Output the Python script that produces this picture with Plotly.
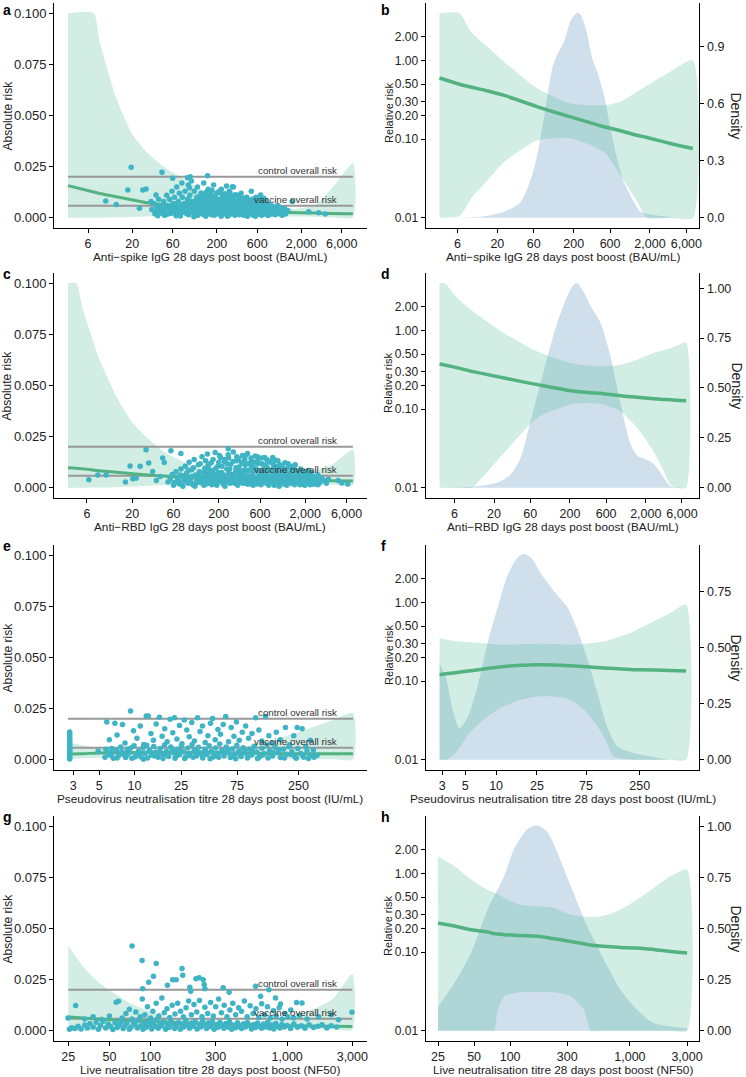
import math
import plotly.graph_objects as go

W, H = 746, 1077
FONT = "Liberation Sans, Arial, Helvetica, sans-serif"

# ---------------- shared values ----------------
ctrl_risk = 0.0201
vacc_risk = 0.0059

spike_ticks = [6, 20, 60, 200, 600, 2000, 6000]
spike_text = ["6", "20", "60", "200", "600", "2,000", "6,000"]
pseudo_ticks = [3, 5, 10, 25, 75, 250]
pseudo_text = ["3", "5", "10", "25", "75", "250"]
live_ticks = [25, 50, 100, 300, 1000, 3000]
live_text = ["25", "50", "100", "300", "1,000", "3,000"]
ar_ticks = [0, 0.025, 0.05, 0.075, 0.1]
ar_text = ["0.000", "0.025", "0.050", "0.075", "0.100"]
rr_ticks = [0.01, 0.1, 0.2, 0.3, 0.5, 1, 2]
rr_text = ["0.01", "0.10", "0.20", "0.30", "0.50", "1.00", "2.00"]

# ---------------- panel a (absolute risk, anti-spike) ----------------
a_x = [3.47, 6.97, 8.2, 12.9, 20.2, 31.8, 50, 78.6, 124, 194, 305, 753, 1183, 1862, 2924, 4592, 8128]
a_up = [0.1, 0.1, 0.0864, 0.0586, 0.0406, 0.0308, 0.0242, 0.0193, 0.0144, 0.0103, 0.0079, 0.0046, 0.0040, 0.0045, 0.0062, 0.0144, 0.0267]
a_lo = [0, 0, 0, 0.0002, 0.0004, 0.0007, 0.001, 0.0012, 0.0014, 0.0014, 0.0013, 0.001, 0.0008, 0.0006, 0.0004, 0.0003, 0.0002]
a_fit = [0.0157, 0.0126, 0.0119, 0.0103, 0.0087, 0.0072, 0.0062, 0.0054, 0.0046, 0.0039, 0.0034, 0.0029, 0.0027, 0.0025, 0.0023, 0.0021, 0.002]
a_pts = [
    (9.7, 0.0082), (12.9, 0.0065), (17.7, 0.0136), (19.4, 0.0247), (26.6, 0.0136), (29.1, 0.0141), (44.9, 0.0223),
    (33.3, 0.0079), (24.3, 0.0046), (38.1, 0.0111), (60, 0.0193), (90, 0.0196), (96.8, 0.0201), (155, 0.0206),
    (305, 0.0152), (658, 0.0111), (1553, 0.0079), (2440, 0.0029), (3200, 0.0025), (3834, 0.0018),
    (34, 0.004), (36, 0.007), (37, 0.002), (39, 0.005), (41, 0.009), (42, 0.003), (44, 0.006), (46, 0.002), (47, 0.008), (49, 0.004),
    (51, 0.011), (52, 0.006), (54, 0.002), (55, 0.009), (57, 0.004), (59, 0.013), (60, 0.007), (62, 0.003), (63, 0.010), (65, 0.005),
    (67, 0.015), (68, 0.002), (70, 0.008), (72, 0.012), (73, 0.004), (75, 0.006), (77, 0.017), (78, 0.010), (80, 0.003), (82, 0.007),
    (84, 0.013), (86, 0.005), (88, 0.002), (90, 0.009), (92, 0.016), (94, 0.004), (96, 0.011), (98, 0.006), (100, 0.018), (102, 0.003),
    (105, 0.008), (108, 0.013), (110, 0.005), (113, 0.002), (116, 0.010), (118, 0.015), (121, 0.006), (124, 0.004), (127, 0.009), (130, 0.012),
    (133, 0.002), (136, 0.007), (140, 0.017), (143, 0.005), (146, 0.010), (150, 0.003), (154, 0.008), (158, 0.014), (162, 0.006), (166, 0.002),
    (170, 0.011), (174, 0.004), (178, 0.008), (183, 0.016), (188, 0.005), (193, 0.003), (198, 0.012), (203, 0.007), (208, 0.002), (214, 0.009),
    (220, 0.005), (226, 0.014), (232, 0.003), (238, 0.008), (245, 0.006), (252, 0.011), (258, 0.002), (265, 0.007), (272, 0.004), (280, 0.013),
    (288, 0.009), (296, 0.003), (305, 0.006), (314, 0.015), (323, 0.005), (333, 0.008), (343, 0.002), (353, 0.011), (364, 0.004), (375, 0.007),
    (387, 0.012), (399, 0.003), (411, 0.009), (424, 0.005), (437, 0.002), (451, 0.010), (465, 0.006), (480, 0.004), (495, 0.008), (511, 0.013),
    (527, 0.003), (544, 0.007), (561, 0.005), (579, 0.010), (598, 0.002), (617, 0.006), (637, 0.004), (658, 0.009), (680, 0.003), (703, 0.007),
    (727, 0.005), (752, 0.002), (778, 0.008), (805, 0.004), (833, 0.006), (862, 0.003), (893, 0.005), (925, 0.002), (960, 0.004), (1000, 0.003),
    (1050, 0.006), (1100, 0.002), (1160, 0.004), (1230, 0.003), (1300, 0.002),
    (40, 0.001), (45, 0.0045), (50, 0.0015), (56, 0.0035), (61, 0.0055), (66, 0.001), (71, 0.0045), (76, 0.0025), (81, 0.0055), (87, 0.0035),
    (93, 0.0015), (99, 0.0045), (106, 0.0025), (112, 0.0065), (119, 0.0012), (126, 0.0035), (134, 0.0055), (142, 0.0015), (151, 0.0045), (160, 0.0065),
    (168, 0.0025), (177, 0.0048), (187, 0.0012), (196, 0.0058), (206, 0.0035), (217, 0.0075), (228, 0.0015), (240, 0.0045), (250, 0.0032), (262, 0.0055),
    (275, 0.0012), (290, 0.0048), (302, 0.0085), (318, 0.0022), (335, 0.0045), (350, 0.0065), (368, 0.0015), (385, 0.0052), (405, 0.0028), (428, 0.0072),
    (448, 0.0015), (470, 0.0042), (492, 0.0025), (515, 0.0058), (540, 0.0012), (567, 0.0038), (592, 0.0078), (622, 0.0022), (650, 0.0048), (685, 0.0015),
    (715, 0.0038), (745, 0.0062), (790, 0.0025), (820, 0.0013), (870, 0.0045), (910, 0.0032), (980, 0.0015), (1070, 0.0035), (1180, 0.0012), (1260, 0.0045),
    (130, 0.0095), (175, 0.0135), (230, 0.0115), (310, 0.0105), (420, 0.0095), (560, 0.0085), (720, 0.0095), (95, 0.0145), (150, 0.0125), (260, 0.0155),
    (38, 0.0028), (43, 0.0052), (48, 0.0012), (53, 0.0048), (58, 0.0022), (64, 0.0068), (69, 0.0032), (74, 0.0009), (79, 0.0062), (83, 0.0042),
    (89, 0.0072), (91, 0.0022), (97, 0.0082), (101, 0.0058), (104, 0.0035), (107, 0.0005), (111, 0.0078), (115, 0.0042), (117, 0.0092), (120, 0.0028),
    (123, 0.0068), (125, 0.0105), (129, 0.0052), (132, 0.0082), (135, 0.0022), (138, 0.0112), (141, 0.0038), (145, 0.0072), (148, 0.0008), (152, 0.0102),
    (155, 0.0058), (157, 0.0028), (161, 0.0088), (164, 0.0042), (167, 0.0118), (171, 0.0068), (173, 0.0015), (176, 0.0098), (180, 0.0055), (182, 0.0032),
    (185, 0.0078), (190, 0.0108), (192, 0.0018), (195, 0.0045), (200, 0.0092), (204, 0.0025), (210, 0.0062), (212, 0.0128), (216, 0.0038), (222, 0.0085),
    (225, 0.0008), (229, 0.0055), (234, 0.0102), (236, 0.0028), (242, 0.0072), (247, 0.0042), (249, 0.0118), (255, 0.0018), (260, 0.0088), (264, 0.0052),
    (268, 0.0008), (274, 0.0098), (278, 0.0035), (283, 0.0062), (286, 0.0122), (292, 0.0018), (298, 0.0078), (300, 0.0045), (308, 0.0102), (312, 0.0028),
    (320, 0.0068), (326, 0.0012), (330, 0.0112), (338, 0.0038), (346, 0.0082), (348, 0.0055), (357, 0.0022), (360, 0.0095), (370, 0.0048), (378, 0.0105),
    (382, 0.0018), (392, 0.0062), (396, 0.0038), (403, 0.0085), (416, 0.0012), (420, 0.0055), (433, 0.0078), (440, 0.0032), (455, 0.0062), (460, 0.0008),
    (475, 0.0088), (485, 0.0048), (500, 0.0018), (505, 0.0068), (520, 0.0035), (533, 0.0092), (550, 0.0022), (555, 0.0055), (572, 0.0008), (585, 0.0045),
    (605, 0.0068), (610, 0.0018), (630, 0.0082), (642, 0.0032), (665, 0.0058), (672, 0.0012), (695, 0.0048), (710, 0.0022), (735, 0.0075), (760, 0.0035),
    (770, 0.0055), (795, 0.0012), (815, 0.0065), (845, 0.0028), (880, 0.0018), (900, 0.0058), (940, 0.0042), (990, 0.0052), (1030, 0.0022), (1120, 0.0048),
    (1200, 0.0028), (1270, 0.0018), (1380, 0.0035),
]

# ---------------- panel b (relative risk, anti-spike) ----------------
b_x = [3.49, 6.37, 9.03, 14.9, 24.7, 67.2, 183, 498, 822, 1356, 1830, 3690, 7300]
b_up = [4, 4, 2.31, 1.49, 0.96, 0.44, 0.284, 0.27, 0.30, 0.40, 0.48, 0.72, 1.01]
b_lo = [0.01, 0.0105, 0.0176, 0.030, 0.0515, 0.097, 0.102, 0.069, 0.0349, 0.016, 0.01, 0.01, 0.01]
b_fit = [0.60, 0.50, 0.46, 0.41, 0.36, 0.258, 0.192, 0.144, 0.128, 0.112, 0.105, 0.088, 0.076]
b_dens_x = [6.06, 12.2, 24.7, 40.6, 60.7, 82, 105, 122, 150, 183, 223, 247, 287, 351, 407, 498, 608, 743, 908, 1225, 1500, 2235, 4500]
b_dens_y = [0, 0.005, 0.032, 0.085, 0.26, 0.53, 0.79, 0.86, 0.93, 1.04, 1.08, 1.07, 1.0, 0.84, 0.77, 0.65, 0.47, 0.31, 0.19, 0.085, 0.032, 0.014, 0.0]
b_dens_ticks = [0, 0.3, 0.6, 0.9]
b_dens_text = ["0.0", "0.3", "0.6", "0.9"]
b_dens_top = 1.078

# ---------------- panel c (absolute risk, anti-RBD) ----------------
c_x = [3.62, 4.52, 5.39, 8.39, 13.1, 20.3, 31.6, 49.1, 76.4, 119, 288, 695, 1683, 2620, 4074, 7110]
c_up = [0.1, 0.1, 0.087, 0.0627, 0.0448, 0.0317, 0.0235, 0.017, 0.0129, 0.0096, 0.0072, 0.0064, 0.0072, 0.0088, 0.0113, 0.0186]
c_lo = [0, 0, 0, 0.0001, 0.0003, 0.0006, 0.001, 0.0013, 0.0016, 0.0019, 0.0022, 0.0023, 0.0022, 0.0019, 0.0016, 0.0012]
c_fit = [0.0098, 0.0095, 0.0093, 0.0083, 0.0076, 0.0069, 0.0062, 0.0056, 0.0051, 0.0047, 0.0042, 0.0039, 0.0036, 0.0035, 0.0034, 0.0033]
c_pts = [
    (6.3, 0.0039), (8.0, 0.0062), (10, 0.0062), (16.7, 0.0028), (18.9, 0.0106), (20.3, 0.0044), (22.2, 0.0047), (24.7, 0.0105),
    (28.9, 0.0186), (31, 0.0121), (34.5, 0.008), (45, 0.0145), (47, 0.0124), (56, 0.0181), (73, 0.0167), (258, 0.0191),
    (38, 0.0035), (42, 0.0055), (52, 0.0028), (5300, 0.0023), (4800, 0.0035), (6200, 0.0018),
    (55, 0.0042), (58, 0.0065), (61, 0.0025), (64, 0.0078), (67, 0.0048), (70, 0.0018), (73, 0.0092), (76, 0.0058), (79, 0.0032), (82, 0.0105),
    (85, 0.0071), (88, 0.0022), (91, 0.0125), (94, 0.0045), (97, 0.0088), (100, 0.0015), (104, 0.0138), (108, 0.0062), (112, 0.0035), (116, 0.0112),
    (120, 0.0078), (124, 0.0025), (128, 0.0152), (133, 0.0052), (138, 0.0095), (143, 0.0018), (148, 0.0165), (153, 0.0068), (158, 0.0042), (164, 0.0122),
    (170, 0.0085), (176, 0.0028), (182, 0.0172), (188, 0.0058), (195, 0.0105), (202, 0.0035), (209, 0.0148), (216, 0.0075), (224, 0.0018), (232, 0.0128),
    (240, 0.0048), (248, 0.0092), (257, 0.0162), (266, 0.0032), (275, 0.0115), (285, 0.0065), (295, 0.0175), (305, 0.0022), (316, 0.0098), (327, 0.0052),
    (338, 0.0142), (350, 0.0078), (362, 0.0028), (375, 0.0158), (388, 0.0062), (401, 0.0112), (415, 0.0038), (430, 0.0168), (445, 0.0085), (460, 0.0018),
    (476, 0.0132), (493, 0.0055), (510, 0.0098), (528, 0.0155), (546, 0.0042), (565, 0.0118), (585, 0.0072), (605, 0.0025), (626, 0.0145), (648, 0.0062),
    (671, 0.0102), (694, 0.0035), (718, 0.0138), (743, 0.0082), (769, 0.0022), (796, 0.0125), (824, 0.0055), (853, 0.0095), (883, 0.0032), (914, 0.0135),
    (946, 0.0068), (979, 0.0018), (1013, 0.0112), (1048, 0.0048), (1085, 0.0088), (1123, 0.0028), (1162, 0.0122), (1203, 0.0062), (1245, 0.0038), (1289, 0.0098),
    (1334, 0.0052), (1381, 0.0022), (1430, 0.0085), (1480, 0.0042), (1532, 0.0112), (1586, 0.0028), (1641, 0.0068), (1699, 0.0035), (1759, 0.0092), (1820, 0.0018),
    (1884, 0.0058), (1950, 0.0078), (2018, 0.0032), (2090, 0.0062), (2160, 0.0022), (2240, 0.0048), (2320, 0.0072), (2400, 0.0028), (2490, 0.0055), (2580, 0.0018),
    (2680, 0.0042), (2800, 0.0062), (2950, 0.0025), (3100, 0.0048), (3300, 0.0035), (3500, 0.0022), (3700, 0.0042),
    (60, 0.0012), (68, 0.0035), (77, 0.0008), (86, 0.0045), (95, 0.0028), (106, 0.0008), (114, 0.0052), (126, 0.0042), (135, 0.0012), (146, 0.0032),
    (156, 0.0088), (167, 0.0015), (179, 0.0045), (192, 0.0025), (206, 0.0058), (220, 0.0032), (236, 0.0008), (252, 0.0045), (270, 0.0022), (290, 0.0052),
    (310, 0.0038), (332, 0.0012), (356, 0.0045), (381, 0.0022), (408, 0.0088), (437, 0.0032), (468, 0.0058), (501, 0.0012), (537, 0.0028), (575, 0.0048),
    (616, 0.0015), (660, 0.0042), (706, 0.0065), (756, 0.0012), (810, 0.0038), (868, 0.0022), (930, 0.0048), (996, 0.0008), (1067, 0.0032), (1143, 0.0045),
    (1225, 0.0012), (1312, 0.0028), (1405, 0.0058), (1505, 0.0015), (1612, 0.0045), (1727, 0.0025), (1850, 0.0042), (1982, 0.0012), (2123, 0.0035), (2275, 0.0015),
    (2437, 0.0038), (2610, 0.0032), (2800, 0.0015), (3000, 0.0038), (200, 0.0125), (320, 0.0132), (480, 0.0108), (700, 0.0112), (950, 0.0098), (1400, 0.0105),
    (150, 0.0108), (260, 0.0145), (400, 0.0138), (560, 0.0152), (850, 0.0118), (1150, 0.0082), (1700, 0.0072), (2200, 0.0085),
    (65, 0.0028), (72, 0.0062), (80, 0.0045), (89, 0.0085), (98, 0.0055), (102, 0.0098), (110, 0.0025), (118, 0.0065), (122, 0.0118), (130, 0.0035),
    (137, 0.0075), (141, 0.0132), (144, 0.0048), (151, 0.0022), (155, 0.0115), (160, 0.0058), (163, 0.0028), (172, 0.0138), (174, 0.0068), (185, 0.0095),
    (190, 0.0012), (198, 0.0075), (204, 0.0158), (212, 0.0045), (218, 0.0105), (228, 0.0062), (234, 0.0138), (244, 0.0028), (250, 0.0118), (262, 0.0072),
    (268, 0.0092), (280, 0.0042), (292, 0.0128), (300, 0.0055), (313, 0.0078), (323, 0.0152), (335, 0.0025), (343, 0.0102), (352, 0.0062), (366, 0.0122),
    (372, 0.0035), (385, 0.0085), (395, 0.0048), (404, 0.0155), (420, 0.0062), (426, 0.0018), (440, 0.0118), (452, 0.0042), (465, 0.0088), (472, 0.0145),
    (488, 0.0028), (498, 0.0072), (515, 0.0125), (522, 0.0048), (540, 0.0092), (552, 0.0018), (570, 0.0138), (580, 0.0058), (598, 0.0085), (610, 0.0035),
    (632, 0.0118), (640, 0.0025), (665, 0.0078), (680, 0.0148), (700, 0.0045), (712, 0.0022), (730, 0.0098), (750, 0.0058), (775, 0.0128), (785, 0.0035),
    (805, 0.0082), (830, 0.0042), (842, 0.0148), (860, 0.0062), (875, 0.0012), (895, 0.0105), (920, 0.0028), (940, 0.0082), (965, 0.0132), (985, 0.0048),
    (1020, 0.0072), (1040, 0.0025), (1075, 0.0108), (1100, 0.0058), (1135, 0.0018), (1170, 0.0092), (1190, 0.0042), (1230, 0.0072), (1265, 0.0118), (1300, 0.0032),
    (1350, 0.0072), (1395, 0.0045), (1440, 0.0022), (1470, 0.0098), (1520, 0.0058), (1570, 0.0082), (1620, 0.0032), (1680, 0.0052), (1740, 0.0015), (1790, 0.0065),
    (1860, 0.0035), (1920, 0.0022), (1990, 0.0052), (2060, 0.0042), (2140, 0.0068), (2210, 0.0035), (2350, 0.0052), (2450, 0.0018), (2550, 0.0045), (2720, 0.0028),
]

# ---------------- panel d (relative risk, anti-RBD) ----------------
d_x = [3.82, 4.44, 6.64, 9.95, 11, 27.2, 74.6, 204, 338, 560, 926, 1534, 2540, 3436, 4200, 5140, 6810]
d_up = [4, 4, 2.57, 1.83, 1.7, 0.925, 0.54, 0.386, 0.36, 0.35, 0.367, 0.425, 0.517, 0.56, 0.597, 0.64, 0.705]
d_lo = [0.01, 0.01, 0.01, 0.01, 0.0106, 0.028, 0.078, 0.115, 0.12, 0.115, 0.094, 0.058, 0.029, 0.0164, 0.0111, 0.01, 0.01]
d_fit = [0.375, 0.365, 0.335, 0.303, 0.298, 0.249, 0.205, 0.172, 0.163, 0.157, 0.148, 0.142, 0.136, 0.133, 0.132, 0.130, 0.128]
d_dens_x = [3.82, 9.95, 22.3, 33.4, 45.1, 61, 91.2, 136, 185, 226, 250, 306, 374, 506, 685, 926, 1254, 1534, 2074, 2540, 3436, 4200, 6810]
d_dens_y = [0, 0.005, 0.027, 0.069, 0.153, 0.338, 0.591, 0.827, 0.961, 1.02, 1.025, 0.978, 0.911, 0.827, 0.658, 0.423, 0.22, 0.162, 0.14, 0.12, 0.052, 0.01, 0]
d_dens_ticks = [0, 0.25, 0.5, 0.75, 1.0]
d_dens_text = ["0.00", "0.25", "0.50", "0.75", "1.00"]
d_dens_top = 1.025

# ---------------- panel e (absolute risk, pseudovirus) ----------------
e_x = [2.71, 3.63, 5.03, 9.66, 18.6, 35.6, 68.4, 131, 252, 484, 731]
e_up = [0.0087, 0.007, 0.0054, 0.0043, 0.0038, 0.0043, 0.0054, 0.0087, 0.0136, 0.0193, 0.0229]
e_lo = [0.0005, 0.0008, 0.001, 0.0013, 0.0013, 0.0013, 0.001, 0.0007, 0.0003, 0.0002, 0.0002]
e_fit = [0.0028, 0.003, 0.0033, 0.0036, 0.0036, 0.0034, 0.0033, 0.0031, 0.0029, 0.0029, 0.0029]
e_pts = [
    (2.8, 0.0004), (2.8, 0.0011), (2.8, 0.0018), (2.8, 0.0025), (2.8, 0.0032), (2.8, 0.0039), (2.8, 0.0046), (2.8, 0.0054),
    (2.8, 0.0062), (2.8, 0.0071), (2.8, 0.008), (2.8, 0.0089), (2.8, 0.0098), (2.8, 0.0107), (2.8, 0.0116), (2.8, 0.0126), (2.8, 0.0136),
    (4.9, 0.0043),
    (5.8, 0.0185), (6.1, 0.0098), (6.4, 0.0055), (6.8, 0.0178), (7.1, 0.0121), (7.9, 0.0172), (8.3, 0.0082), (9.25, 0.0239), (9.8, 0.0142),
    (10.5, 0.0105), (11.2, 0.0165), (12.0, 0.0075), (12.6, 0.0214), (13.1, 0.0214), (13.8, 0.0128), (14.5, 0.0095), (15.3, 0.0175), (16.3, 0.0208),
    (17.2, 0.0115), (18.1, 0.0152), (19.0, 0.0088), (20.1, 0.0198), (21.2, 0.0132), (21.9, 0.0205), (23.0, 0.0102), (24.2, 0.0168), (25.4, 0.0078),
    (26.6, 0.0195), (27.9, 0.0145), (29.3, 0.0112), (30.8, 0.0182), (32.4, 0.0092), (34.5, 0.0205), (36.2, 0.0138), (38.0, 0.0165), (40.1, 0.0085),
    (42.3, 0.0118), (44.5, 0.0178), (46.3, 0.0202), (48.8, 0.0098), (51.5, 0.0148), (54.2, 0.0125), (57.1, 0.0172), (60.0, 0.0212), (63.4, 0.0088),
    (66.8, 0.0158), (70.5, 0.0115), (74.0, 0.0185), (78.2, 0.0095), (83.0, 0.0135), (88.8, 0.0165), (94.0, 0.0105), (100.5, 0.0128), (108, 0.0205),
    (115, 0.0145), (122, 0.0092), (131, 0.0212), (140, 0.0118), (150, 0.0082), (162, 0.0135), (175, 0.0098), (194, 0.0158), (210, 0.0072),
    (228, 0.0118), (244, 0.0158), (269, 0.0152), (290, 0.0065), (316, 0.0095), (335, 0.0048), (361, 0.0022),
    (5.6, 0.0012), (5.9, 0.0035), (6.2, 0.0022), (6.6, 0.0008), (7.0, 0.0045), (7.3, 0.0018), (7.6, 0.0062), (8.0, 0.0028), (8.4, 0.0011), (8.7, 0.0052),
    (9.1, 0.0035), (9.5, 0.0007), (9.9, 0.0068), (10.3, 0.0025), (10.8, 0.0042), (11.3, 0.0015), (11.8, 0.0058), (12.3, 0.0032), (12.9, 0.0009), (13.4, 0.0048),
    (14.0, 0.0022), (14.6, 0.0065), (15.2, 0.0038), (15.9, 0.0012), (16.6, 0.0055), (17.3, 0.0028), (18.0, 0.0072), (18.7, 0.0042), (19.5, 0.0016), (20.4, 0.0062),
    (21.3, 0.0035), (22.2, 0.0008), (23.1, 0.0051), (24.1, 0.0024), (25.1, 0.0068), (26.2, 0.0039), (27.3, 0.0013), (28.5, 0.0057), (29.7, 0.0031), (31.0, 0.0075),
    (32.3, 0.0046), (33.7, 0.0018), (35.1, 0.0061), (36.6, 0.0034), (38.2, 0.0009), (39.8, 0.0052), (41.5, 0.0026), (43.3, 0.0069), (45.1, 0.0041), (47.0, 0.0014),
    (49.0, 0.0058), (51.1, 0.0032), (53.3, 0.0077), (55.6, 0.0045), (58.0, 0.0019), (60.5, 0.0063), (63.1, 0.0036), (65.8, 0.0011), (68.6, 0.0054), (71.5, 0.0028),
    (74.6, 0.0071), (77.8, 0.0043), (81.1, 0.0016), (84.6, 0.0059), (88.2, 0.0033), (92.0, 0.0009), (96.0, 0.0051), (100, 0.0025), (105, 0.0066), (110, 0.0038),
    (116, 0.0014), (122, 0.0056), (128, 0.0031), (135, 0.0072), (142, 0.0044), (150, 0.0018), (158, 0.0061), (167, 0.0035), (176, 0.0011), (186, 0.0052),
    (197, 0.0027), (208, 0.0064), (220, 0.0039), (233, 0.0015), (247, 0.0055), (262, 0.0031), (278, 0.0012), (296, 0.0045), (315, 0.0024), (340, 0.0012),
    (5.7, 0.0052), (6.4, 0.0031), (7.1, 0.0009), (7.8, 0.0041), (8.6, 0.0022), (9.3, 0.0058), (10.1, 0.0014), (11.0, 0.0036), (11.9, 0.0003), (12.7, 0.0071),
    (13.6, 0.0041), (14.8, 0.0019), (16.0, 0.0034), (17.5, 0.0006), (18.9, 0.0025), (20.9, 0.0048), (22.7, 0.0019), (24.6, 0.0044), (26.8, 0.0006), (29.0, 0.0021),
    (31.6, 0.0012), (34.4, 0.0039), (37.4, 0.0024), (40.6, 0.0044), (44.2, 0.0005), (48.0, 0.0029), (52.2, 0.0012), (56.8, 0.0035), (61.8, 0.0052), (67.2, 0.0022),
    (73.0, 0.0005), (79.4, 0.0027), (86.4, 0.0048), (94.0, 0.0019), (102, 0.0041), (112, 0.0006), (124, 0.0023), (138, 0.0009), (152, 0.0035), (170, 0.0048),
    (190, 0.0009), (215, 0.0026), (240, 0.0007), (270, 0.0023), (305, 0.0006),
]

# ---------------- panel f (relative risk, pseudovirus) ----------------
f_x = [2.82, 3.27, 4.0, 5.7, 8.27, 12, 17.4, 25.3, 36.6, 53.1, 77.1, 112, 140, 203, 235, 494, 706]
f_up = [0.354, 0.34, 0.325, 0.312, 0.30, 0.291, 0.295, 0.30, 0.297, 0.291, 0.30, 0.321, 0.35, 0.41, 0.452, 0.738, 0.942]
f_lo = [0.01, 0.01, 0.012, 0.023, 0.0356, 0.0478, 0.058, 0.064, 0.064, 0.058, 0.0393, 0.0198, 0.011, 0.01, 0.01, 0.01, 0.01]
f_fit = [0.121, 0.124, 0.128, 0.136, 0.145, 0.154, 0.159, 0.162, 0.161, 0.157, 0.152, 0.147, 0.145, 0.141, 0.14, 0.137, 0.135]
f_dens_x = [2.82, 3.27, 3.79, 4.4, 5.3, 6.62, 8.27, 10.4, 12.9, 16.2, 18.8, 21.8, 27.2, 36.6, 49.3, 61.7, 77.1, 96.4, 120, 151, 218, 317, 494, 706]
f_dens_y = [0.43, 0.36, 0.22, 0.14, 0.19, 0.33, 0.52, 0.68, 0.82, 0.9, 0.915, 0.9, 0.83, 0.75, 0.68, 0.58, 0.45, 0.3, 0.15, 0.06, 0.03, 0.015, 0.0, 0.0]
f_dens_ticks = [0, 0.25, 0.5, 0.75]
f_dens_text = ["0.00", "0.25", "0.50", "0.75"]
f_dens_top = 0.91

# ---------------- panel g (absolute risk, live neutralisation) ----------------
g_x = [25, 32, 42.3, 56, 74.1, 98, 130, 227, 397, 695, 1216, 2128, 3000]
g_up = [0.0414, 0.0316, 0.0234, 0.0177, 0.0128, 0.0095, 0.007, 0.0046, 0.0041, 0.0046, 0.0079, 0.0152, 0.0278]
g_lo = [0.0, 0.0002, 0.0004, 0.0006, 0.0008, 0.001, 0.0011, 0.0012, 0.0012, 0.0011, 0.0009, 0.0007, 0.0005]
g_fit = [0.0067, 0.0063, 0.0057, 0.0053, 0.0049, 0.0046, 0.0043, 0.0036, 0.0029, 0.0026, 0.0024, 0.0022, 0.0021]
g_pts = [
    (24.9, 0.0062), (73.3, 0.0414), (86.7, 0.0344), (87.6, 0.0205), (97, 0.0237), (105, 0.0267), (110, 0.0329), (133, 0.0223),
    (145, 0.0249), (154, 0.0249), (170, 0.0304), (172, 0.0272), (194, 0.0213), (197, 0.0193), (215, 0.0254), (227, 0.0259),
    (243, 0.025), (247, 0.0226), (250, 0.0205), (340, 0.021), (376, 0.0188), (588, 0.0218), (639, 0.0169), (735, 0.0201),
    (822, 0.016), (894, 0.0131), (1285, 0.0136), (2980, 0.009), (2100, 0.0078),
    (28.3, 0.0123), (33, 0.0058), (38, 0.0068), (44, 0.0055), (50, 0.0072), (56, 0.0139), (58.3, 0.0144), (62, 0.0062), (66, 0.0085), (70, 0.0105),
    (73, 0.0058), (78, 0.0092), (84, 0.0068), (87, 0.0155), (91, 0.0078), (95, 0.0118), (100, 0.0062), (104, 0.0095), (110, 0.0135), (115, 0.0072),
    (121, 0.016), (126, 0.0088), (132, 0.0108), (138, 0.0065), (144, 0.0125), (151, 0.0082), (158, 0.0135), (166, 0.0095), (174, 0.0068), (182, 0.0112),
    (190, 0.0145), (199, 0.0078), (208, 0.0128), (218, 0.0092), (228, 0.0148), (238, 0.0068), (250, 0.0115), (262, 0.0085), (275, 0.0138), (288, 0.0072),
    (300, 0.0118), (315, 0.0155), (330, 0.0088), (346, 0.0125), (363, 0.0068), (381, 0.0102), (400, 0.0135), (420, 0.0078), (441, 0.0112), (463, 0.0095),
    (486, 0.0145), (510, 0.0068), (536, 0.0122), (563, 0.0085), (591, 0.0108), (620, 0.0065), (651, 0.0132), (684, 0.0078), (718, 0.0118), (754, 0.0062),
    (792, 0.0098), (832, 0.0072), (874, 0.0112), (918, 0.0058), (964, 0.0085), (1012, 0.0068), (1063, 0.0102), (1116, 0.0062), (1172, 0.0138), (1230, 0.0075),
    (1400, 0.0058), (1700, 0.0068), (2380, 0.0054),
    (25.5, 0.0008), (26.5, 0.0015), (28, 0.0011), (29.5, 0.0022), (31, 0.0009), (33, 0.0028), (34.5, 0.0014), (36, 0.0035), (38, 0.0019), (40, 0.0042),
    (41.5, 0.0008), (43, 0.0026), (45, 0.0047), (47, 0.0013), (49, 0.0033), (51, 0.0021), (53, 0.0006), (55, 0.0039), (57, 0.0016), (59, 0.0029),
    (61, 0.0045), (63, 0.0011), (65, 0.0024), (67, 0.0037), (70, 0.0008), (72, 0.0019), (75, 0.0043), (77, 0.0031), (80, 0.0013), (82, 0.0052),
    (85, 0.0024), (88, 0.0007), (90, 0.0036), (93, 0.0017), (96, 0.0046), (99, 0.0028), (102, 0.0009), (105, 0.0039), (108, 0.0021), (111, 0.0055),
    (114, 0.0012), (117, 0.0033), (121, 0.0025), (125, 0.0044), (129, 0.0007), (133, 0.0029), (137, 0.0016), (141, 0.0048), (145, 0.0036), (150, 0.0011),
    (155, 0.0023), (160, 0.0041), (165, 0.0008), (170, 0.0031), (175, 0.0019), (181, 0.0052), (187, 0.0027), (193, 0.0012), (199, 0.0038), (205, 0.0022),
    (212, 0.0045), (219, 0.0009), (226, 0.0033), (233, 0.0018), (241, 0.0049), (249, 0.0026), (257, 0.0011), (265, 0.0039), (274, 0.0021), (283, 0.0047),
    (292, 0.0008), (302, 0.0031), (312, 0.0017), (322, 0.0042), (333, 0.0025), (344, 0.0012), (355, 0.0036), (367, 0.0019), (379, 0.0045), (392, 0.0007),
    (405, 0.0028), (419, 0.0015), (433, 0.0039), (448, 0.0022), (463, 0.0011), (479, 0.0034), (495, 0.0018), (512, 0.0041), (530, 0.0026), (548, 0.0009),
    (567, 0.0031), (587, 0.0016), (607, 0.0038), (628, 0.0022), (650, 0.0012), (672, 0.0033), (695, 0.0019), (720, 0.0042), (745, 0.0014), (771, 0.0028),
    (798, 0.0009), (826, 0.0035), (855, 0.0021), (885, 0.0013), (916, 0.0031), (950, 0.0018), (1000, 0.0026), (1060, 0.0011), (1120, 0.0033), (1190, 0.0017),
    (1270, 0.0025), (1350, 0.0012), (1450, 0.0029), (1560, 0.0016), (1680, 0.0022), (1800, 0.0030), (1950, 0.0014), (2100, 0.0024), (2300, 0.0019),
]

# ---------------- panel h (relative risk, live neutralisation) ----------------
h_x = [25, 34.3, 47.2, 64.9, 73.8, 78.7, 89.4, 123, 169, 233, 320, 413, 470, 607, 834, 1148, 1580, 2175, 3000]
h_up = [1.66, 1.24, 0.84, 0.62, 0.57, 0.55, 0.489, 0.40, 0.383, 0.365, 0.30, 0.285, 0.28, 0.291, 0.347, 0.466, 0.656, 0.923, 1.12]
h_lo = [0.01, 0.01, 0.01, 0.01, 0.01, 0.0185, 0.0274, 0.0308, 0.031, 0.0308, 0.0274, 0.0185, 0.01, 0.01, 0.01, 0.01, 0.01, 0.01, 0.01]
h_fit = [0.235, 0.215, 0.193, 0.18, 0.172, 0.17, 0.167, 0.163, 0.159, 0.148, 0.137, 0.128, 0.123, 0.119, 0.115, 0.113, 0.108, 0.102, 0.0975]
h_dens_x = [25, 34.3, 47.2, 64.9, 89.4, 108, 140, 169, 205, 248, 320, 440, 607, 834, 1148, 1580, 3000]
h_dens_y = [0.119, 0.234, 0.381, 0.594, 0.758, 0.889, 0.987, 1.003, 0.971, 0.872, 0.709, 0.512, 0.349, 0.201, 0.103, 0.038, 0.013]
h_dens_ticks = [0, 0.25, 0.5, 0.75, 1.0]
h_dens_text = ["0.00", "0.25", "0.50", "0.75", "1.00"]
h_dens_top = 1.0

x_titles = [
    "Anti\u2212spike IgG 28 days post boost (BAU/mL)",
    "Anti\u2212RBD IgG 28 days post boost (BAU/mL)",
    "Pseudovirus neutralisation titre 28 days post boost (IU/mL)",
    "Live neutralisation titre 28 days post boost (NF50)",
]
panel_letters = [("a", "b"), ("c", "d"), ("e", "f"), ("g", "h")]

# ---------------- styling ----------------
RIBBON = "rgba(102,194,165,0.30)"
DENS = "rgba(128,170,205,0.38)"
GREEN = "rgb(82,178,128)"
TEAL = "rgb(62,180,196)"
GREY = "rgb(152,152,152)"
TXT = "#222222"

ROW_TOPS = [3, 273, 545, 816]
PLOT_H = 225
LX = (54.3, 368.0)
RX = (427.3, 702.3)
RR_RANGE = [-2.13, 0.732]

rows = [
    dict(L=(a_x, a_up, a_lo, a_fit, a_pts, [0.376, 4.071]),
         R=(b_x, b_up, b_lo, b_fit, b_dens_x, b_dens_y, [0.36, 3.95], b_dens_top, b_dens_ticks, b_dens_text),
         ticks=(spike_ticks, spike_text)),
    dict(L=(c_x, c_up, c_lo, c_fit, c_pts, [0.398, 4.009]),
         R=(d_x, d_up, d_lo, d_fit, d_dens_x, d_dens_y, [0.398, 4.009], d_dens_top, d_dens_ticks, d_dens_text),
         ticks=(spike_ticks, spike_text)),
    dict(L=(e_x, e_up, e_lo, e_fit, e_pts, [0.314, 2.979]),
         R=(f_x, f_up, f_lo, f_fit, f_dens_x, f_dens_y, [0.314, 2.979], f_dens_top, f_dens_ticks, f_dens_text),
         ticks=(pseudo_ticks, pseudo_text)),
    dict(L=(g_x, g_up, g_lo, g_fit, g_pts, [1.294, 3.581]),
         R=(h_x, h_up, h_lo, h_fit, h_dens_x, h_dens_y, [1.294, 3.581], h_dens_top, h_dens_ticks, h_dens_text),
         ticks=(live_ticks, live_text)),
]

fig = go.Figure()
layout = dict(
    width=W, height=H, autosize=False,
    margin=dict(l=0, r=0, t=0, b=0),
    paper_bgcolor="white", plot_bgcolor="white",
    showlegend=False, hovermode=False,
    font=dict(family=FONT, color=TXT, size=12),
)
annotations = []

axis_common = dict(showline=True, linecolor="black", linewidth=1, ticks="outside",
                   ticklen=4, tickwidth=1, tickcolor="black", showgrid=False, zeroline=False)

frac0 = (math.log10(0.01) - RR_RANGE[0]) / (RR_RANGE[1] - RR_RANGE[0])
fractop = (math.log10(4) - RR_RANGE[0]) / (RR_RANGE[1] - RR_RANGE[0])

for r, row in enumerate(rows):
    top = ROW_TOPS[r]
    ydom = [1 - (top + PLOT_H) / H, 1 - top / H]
    xl, yl = f"x{2*r+1}", f"y{2*r+1}"
    xr, yd, yrr = f"x{2*r+2}", f"y{2*r+2}", f"y{9+r}"
    tv, tt = row["ticks"]

    # ---- left panel: absolute risk ----
    lx, lup, llo, lfit, lpts, lrange = row["L"]
    fig.add_trace(go.Scatter(x=lx + lx[::-1], y=lup + llo[::-1], fill="toself", fillcolor=RIBBON,
                             mode="lines", line=dict(width=0, shape="spline", smoothing=0.6),
                             xaxis=xl, yaxis=yl))
    for val in (ctrl_risk, vacc_risk):
        fig.add_trace(go.Scatter(x=[lx[0], lx[-1]], y=[val, val], mode="lines",
                                 line=dict(color=GREY, width=2), xaxis=xl, yaxis=yl))
    fig.add_trace(go.Scatter(x=lx, y=lfit, mode="lines", line=dict(color=GREEN, width=3, shape="spline"),
                             xaxis=xl, yaxis=yl))
    fig.add_trace(go.Scatter(x=[p[0] for p in lpts], y=[p[1] for p in lpts], mode="markers",
                             marker=dict(color=TEAL, size=5.5, line=dict(width=0)),
                             xaxis=xl, yaxis=yl))

    layout["xaxis" + str(2*r+1)] = dict(domain=[LX[0] / W, LX[1] / W], anchor=yl, type="log", range=lrange,
                                         tickvals=tv, ticktext=tt, tickfont=dict(size=12.5, color=TXT), **axis_common)
    layout["yaxis" + str(2*r+1)] = dict(domain=ydom, anchor=xl, range=[-0.005, 0.105],
                                         tickvals=ar_ticks, ticktext=ar_text, tickfont=dict(size=13, color=TXT), **axis_common)

    for val, label in ((ctrl_risk, "control overall risk"), (vacc_risk, "vaccine overall risk")):
        annotations.append(dict(xref="paper", yref=yl, x=340 / W, y=val, text=label, showarrow=False,
                                xanchor="right", yanchor="bottom", yshift=-1,
                                font=dict(size=9.8, color="#333333")))

    # ---- right panel: relative risk + density ----
    rx, rup, rlo, rfit, dx, dy, rrange, dtop, dtv, dtt = row["R"]
    fig.add_trace(go.Scatter(x=dx, y=dy, fill="tozeroy", fillcolor=DENS, mode="lines",
                             line=dict(width=0, shape="spline", smoothing=0.7), xaxis=xr, yaxis=yd))
    fig.add_trace(go.Scatter(x=rx + rx[::-1], y=rup + rlo[::-1], fill="toself", fillcolor=RIBBON,
                             mode="lines", line=dict(width=0, shape="spline", smoothing=0.6),
                             xaxis=xr, yaxis=yrr))
    fig.add_trace(go.Scatter(x=rx, y=rfit, mode="lines", line=dict(color=GREEN, width=3.5, shape="spline"),
                             xaxis=xr, yaxis=yrr))

    span = dtop / (fractop - frac0)
    dlo = -frac0 * span
    layout["xaxis" + str(2*r+2)] = dict(domain=[RX[0] / W, RX[1] / W], anchor=yd, type="log", range=rrange,
                                         tickvals=tv, ticktext=tt, tickfont=dict(size=12.5, color=TXT), **axis_common)
    layout["yaxis" + str(2*r+2)] = dict(domain=ydom, anchor=xr, side="right", range=[dlo, dlo + span],
                                         tickvals=dtv, ticktext=dtt, tickfont=dict(size=12.5, color=TXT), **axis_common)
    layout["yaxis" + str(9+r)] = dict(overlaying=yd, anchor=xr, side="left", type="log", range=RR_RANGE,
                                       tickvals=rr_ticks, ticktext=rr_text, tickfont=dict(size=12, color=TXT), **axis_common)

    # ---- titles ----
    xt_y = 1 - (top + PLOT_H + 29) / H
    annotations.append(dict(xref="paper", yref="paper", x=(LX[0] + LX[1]) / 2 / W, y=xt_y, text=x_titles[r],
                            showarrow=False, xanchor="center", yanchor="middle", font=dict(size=11.8, color=TXT)))
    annotations.append(dict(xref="paper", yref="paper", x=(RX[0] + RX[1]) / 2 / W, y=xt_y, text=x_titles[r],
                            showarrow=False, xanchor="center", yanchor="middle", font=dict(size=11.8, color=TXT)))
    yc = 1 - (top + PLOT_H / 2) / H
    annotations.append(dict(xref="paper", yref="paper", x=8 / W, y=yc, text="Absolute risk", textangle=-90,
                            showarrow=False, xanchor="center", yanchor="middle", font=dict(size=12, color=TXT)))
    annotations.append(dict(xref="paper", yref="paper", x=390 / W, y=yc + 3 / H, text="Relative risk", textangle=-90,
                            showarrow=False, xanchor="center", yanchor="middle", font=dict(size=11, color=TXT)))
    annotations.append(dict(xref="paper", yref="paper", x=739 / W, y=yc, text="Density", textangle=90,
                            showarrow=False, xanchor="center", yanchor="middle", font=dict(size=14, color=TXT)))
    la, lb = panel_letters[r]
    letter_y = min(1.0, 1 - (top - 9) / H)
    annotations.append(dict(xref="paper", yref="paper", x=1 / W, y=letter_y, text=f"<b>{la}</b>",
                            showarrow=False, xanchor="left", yanchor="top", font=dict(size=14, color="black")))
    annotations.append(dict(xref="paper", yref="paper", x=381 / W, y=letter_y, text=f"<b>{lb}</b>",
                            showarrow=False, xanchor="left", yanchor="top", font=dict(size=14, color="black")))

layout["annotations"] = annotations
fig.update_layout(**layout)
fig.write_html("out.html", config={"displayModeBar": False},
               post_script="document.body.style.margin='0px';document.body.style.padding='0px';")
